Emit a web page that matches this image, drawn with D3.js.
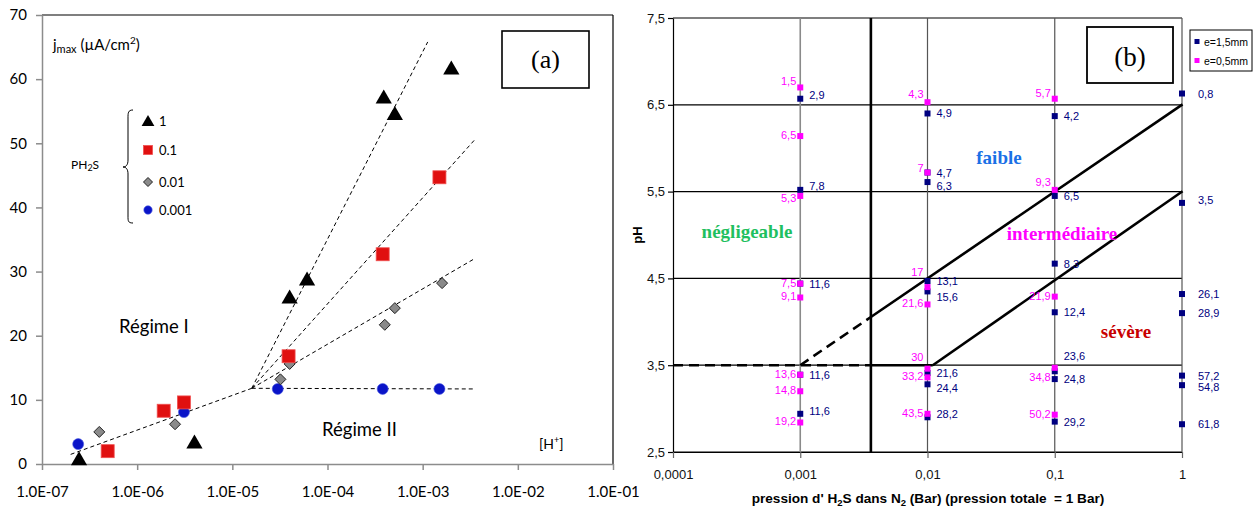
<!DOCTYPE html>
<html><head><meta charset="utf-8">
<script src="https://cdn.jsdelivr.net/npm/d3@7"></script>
<style>body{margin:0;background:#fff}svg{display:block}</style>
</head><body><svg id="c" width="1256" height="511"></svg>
<script>
// ---------- Panel (a) data ----------
const xTicksA = [1e-7, 1e-6, 1e-5, 1e-4, 1e-3, 1e-2, 1e-1];
const xTickLabelsA = ["1.0E-07","1.0E-06","1.0E-05","1.0E-04","1.0E-03","1.0E-02","1.0E-01"];
const yTicksA = [0, 10, 20, 30, 40, 50, 60, 70];
const legendLabelsA = ["1", "0.1", "0.01", "0.001"];
const hTri = [2.45e-7, 4.0e-6, 4.0e-5, 6.1e-5, 3.9e-4, 5.1e-4, 2.0e-3];
const jTri = [0.8, 3.4, 26.0, 28.8, 57.2, 54.6, 61.7];
const hSq = [4.9e-7, 1.9e-6, 3.1e-6, 3.9e-5, 3.8e-4, 1.5e-3];
const jSq = [2.0, 8.3, 9.6, 16.8, 32.7, 44.7];
const hDia = [4.0e-7, 2.5e-6, 3.2e-5, 4.0e-5, 4.0e-4, 5.1e-4, 1.6e-3];
const jDia = [5.0, 6.2, 13.2, 15.6, 21.7, 24.3, 28.2];
const hCir = [2.4e-7, 3.1e-6, 3.0e-5, 3.8e-4, 1.5e-3];
const jCir = [3.1, 8.1, 11.7, 11.7, 11.7];
// dashed trend lines: start/end [H+] and j
const trendH0 = [2.0e-7, 1.6e-5, 1.6e-5, 1.6e-5, 1.6e-5];
const trendJ0 = [1.5, 11.8, 11.8, 11.8, 11.8];
const trendH1 = [1.6e-5, 3.5e-3, 1.13e-3, 3.5e-3, 3.5e-3];
const trendJ1 = [11.8, 11.7, 65.8, 50.5, 32.0];

// ---------- Panel (b) data ----------
const pTicks = [0.0001, 0.001, 0.01, 0.1, 1];
const pTickLabels = ["0,0001", "0,001", "0,01", "0,1", "1"];
const phTicks = [2.5, 3.5, 4.5, 5.5, 6.5, 7.5];
const phTickLabels = ["2,5", "3,5", "4,5", "5,5", "6,5", "7,5"];
const seriesNamesB = ["e=1,5mm", "e=0,5mm"];
// e = 1,5 mm (navy)
const navyP = [0.001,0.001,0.001,0.001,0.001,
  0.01,0.01,0.01,0.01,0.01,0.01,0.01,0.01,
  0.1,0.1,0.1,0.1,0.1,0.1,0.1,
  1,1,1,1,1,1,1];
const navyPH = [6.57,5.52,4.44,3.39,2.94,
  6.40,5.72,5.61,4.47,4.35,3.41,3.28,2.90,
  6.37,5.45,4.67,4.11,3.43,3.34,2.85,
  6.63,5.37,4.32,4.10,3.38,3.27,2.82];
const navyLabel = ["2,9","7,8","11,6","11,6","11,6",
  "4,9","4,7","6,3","13,1","15,6","21,6","24,4","28,2",
  "4,2","6,5","8,3","12,4","23,6","24,8","29,2",
  "0,8","3,5","26,1","28,9","57,2","54,8","61,8"];
// e = 0,5 mm (magenta)
const magP = [0.001,0.001,0.001,0.001,0.001,0.001,0.001,0.001,
  0.01,0.01,0.01,0.01,0.01,0.01,0.01,
  0.1,0.1,0.1,0.1,0.1];
const magPH = [6.70,6.14,5.45,4.44,4.28,3.39,3.20,2.84,
  6.53,5.72,4.40,4.20,3.46,3.36,2.94,
  6.57,5.52,4.29,3.47,2.93];
const magLabel = ["1,5","6,5","5,3","7,5","9,1","13,6","14,8","19,2",
  "4,3","7","17","21,6","30","33,2","43,5",
  "5,7","9,3","21,9","34,8","50,2"];
// boundary lines of the domains
const limitP = 0.00359;
const regionNames = ["négligeable", "faible", "intermédiaire", "sévère"];

const svg = d3.select("#c");

// ================= PANEL A =================
const xA = d3.scaleLog().domain([1e-7, 1e-1]).range([42, 613]);
const yA = d3.scaleLinear().domain([0, 70]).range([464, 15]);
const fA = "Lato, 'Open Sans', sans-serif";
const gA = svg.append("g").attr("font-family", fA);

gA.append("line").attr("x1", xA(1e-7)).attr("x2", xA(1e-1)).attr("y1", yA(70)).attr("y2", yA(70)).attr("stroke", "#000").attr("stroke-width", 1.2);
gA.append("line").attr("x1", xA(1e-1)).attr("x2", xA(1e-1)).attr("y1", yA(70)).attr("y2", yA(0)).attr("stroke", "#000").attr("stroke-width", 1.2);

const axLA = gA.append("g").attr("transform", `translate(${xA(1e-7)},0)`)
  .call(d3.axisLeft(yA).tickValues(yTicksA).tickSize(6).tickSizeOuter(0).tickPadding(9));
const axBA = gA.append("g").attr("transform", `translate(0,${yA(0)})`)
  .call(d3.axisBottom(xA).tickValues(xTicksA).tickFormat((d, i) => xTickLabelsA[i]).tickSize(6).tickSizeOuter(0).tickPadding(16));
[axLA, axBA].forEach(ax => {
  ax.select(".domain").attr("stroke", "#8c8c8c").attr("stroke-width", 1.5);
  ax.selectAll(".tick line").attr("stroke", "#8c8c8c").attr("stroke-width", 1.5);
  ax.selectAll("text").attr("font-family", fA).attr("font-size", 15).attr("fill", "#000");
});

// dashed trend lines
trendH0.forEach((h, i) => {
  gA.append("line")
    .attr("x1", xA(h)).attr("y1", yA(trendJ0[i]))
    .attr("x2", xA(trendH1[i])).attr("y2", yA(trendJ1[i]))
    .attr("stroke", "#000").attr("stroke-width", 1).attr("stroke-dasharray", "4,3");
});

const triPath = s => `M0,${-s*0.55}L${s*0.58},${s*0.45}L${-s*0.58},${s*0.45}Z`;
function drawTri(g, x, y, s) { g.append("path").attr("d", triPath(s)).attr("transform", `translate(${x},${y})`).attr("fill", "#000"); }
function drawSq(g, x, y, s) { g.append("rect").attr("x", x - s/2).attr("y", y - s/2).attr("width", s).attr("height", s).attr("fill", "#e01010").attr("stroke", "#f05050").attr("stroke-width", 0.8); }
function drawDia(g, x, y, s) { g.append("path").attr("d", `M0,${-s/2}L${s/2},0L0,${s/2}L${-s/2},0Z`).attr("transform", `translate(${x},${y})`).attr("fill", "#8a8a8a").attr("stroke", "#222").attr("stroke-width", 1); }
function drawCir(g, x, y, r) { g.append("circle").attr("cx", x).attr("cy", y).attr("r", r).attr("fill", "#0a14c8").attr("stroke", "#4a5ae0").attr("stroke-width", 0.6); }

hCir.forEach((h, i) => drawCir(gA, xA(h), yA(jCir[i]), 5.5));
hDia.forEach((h, i) => drawDia(gA, xA(h), yA(jDia[i]), 11));
hSq.forEach((h, i) => drawSq(gA, xA(h), yA(jSq[i]), 13));
hTri.forEach((h, i) => drawTri(gA, xA(h), yA(jTri[i]), 14));

// y title
const yt = gA.append("text").attr("x", 53).attr("y", 50).attr("font-size", 15).attr("fill", "#000");
yt.append("tspan").text("j");
yt.append("tspan").attr("font-size", 11).attr("dy", 3).text("max");
yt.append("tspan").attr("dy", -3).text(" (µA/cm");
yt.append("tspan").attr("font-size", 10).attr("dy", -6).text("2");
yt.append("tspan").attr("dy", 6).text(")");

// legend
const legY = [121, 150, 182, 210];
drawTri(gA, 148, legY[0], 11);
drawSq(gA, 148, legY[1], 9);
drawDia(gA, 148, legY[2], 9);
drawCir(gA, 148, legY[3], 4.2);
legendLabelsA.forEach((t, i) => gA.append("text").attr("x", 159).attr("y", legY[i] + 4.5).attr("font-size", 13).text(t));
gA.append("path").attr("d", "M133,110 C128,110 128,113 128,118 L128,160 C128,165 126,167 123,167 C126,167 128,169 128,174 L128,216 C128,221 128,223 133,223")
  .attr("fill", "none").attr("stroke", "#000").attr("stroke-width", 1);
const ph2s = gA.append("text").attr("x", 71).attr("y", 169).attr("font-size", 12);
ph2s.append("tspan").text("PH");
ph2s.append("tspan").attr("font-size", 9).attr("dy", 2).text("2");
ph2s.append("tspan").attr("dy", -2).text("S");

gA.append("text").attr("x", 119).attr("y", 333).attr("font-size", 18.5).text("Régime I");
gA.append("text").attr("x", 322).attr("y", 436).attr("font-size", 18.5).text("Régime II");
const hp = gA.append("text").attr("x", 539).attr("y", 449).attr("font-size", 14);
hp.append("tspan").text("[H");
hp.append("tspan").attr("font-size", 9).attr("dy", -6).text("+");
hp.append("tspan").attr("dy", 6).text("]");

gA.append("rect").attr("x", 502).attr("y", 31).attr("width", 87).attr("height", 57).attr("fill", "none").attr("stroke", "#000").attr("stroke-width", 1.6);
gA.append("text").attr("x", 545.5).attr("y", 68).attr("text-anchor", "middle").attr("font-family", "'Liberation Serif', 'Times New Roman', serif").attr("font-size", 26).text("(a)");

// ================= PANEL B =================
const fB = "'Liberation Sans', Arial, sans-serif";
const xB = d3.scaleLog().domain([1e-4, 1]).range([673, 1182]);
const yB = d3.scaleLinear().domain([2.5, 7.5]).range([452, 18]);
const gB = svg.append("g").attr("font-family", fB);

// horizontal grid
phTicks.forEach(v => gB.append("line").attr("x1", xB(1e-4)).attr("x2", xB(1)).attr("y1", yB(v)).attr("y2", yB(v)).attr("stroke", "#000").attr("stroke-width", 1.2));
// vertical grid
pTicks.slice(1).forEach((p, i) => gB.append("line").attr("x1", xB(p)).attr("x2", xB(p)).attr("y1", yB(7.5)).attr("y2", yB(2.5))
  .attr("stroke", i === 0 ? "#8a8a8a" : "#555").attr("stroke-width", i === 0 ? 1.6 : 1.2));

const axLB = gB.append("g").attr("transform", `translate(${xB(1e-4)},0)`)
  .call(d3.axisLeft(yB).tickValues(phTicks).tickFormat((d, i) => phTickLabels[i]).tickSize(5).tickSizeOuter(0).tickPadding(3));
const axBB = gB.append("g").attr("transform", `translate(0,${yB(2.5)})`)
  .call(d3.axisBottom(xB).tickValues(pTicks).tickFormat((d, i) => pTickLabels[i]).tickSize(6).tickSizeOuter(0).tickPadding(12));
[axLB, axBB].forEach(ax => {
  ax.select(".domain").attr("stroke", "#000").attr("stroke-width", 1.2);
  ax.selectAll(".tick line").attr("stroke", "#000").attr("stroke-width", 1.2);
  ax.selectAll("text").attr("font-family", fB).attr("font-size", 13).attr("fill", "#111");
});
axBB.selectAll(".tick line").attr("stroke", "#666");

// thick boundary lines
const thick = (p0, h0, p1, h1, dash) => gB.append("line")
  .attr("x1", xB(p0)).attr("y1", yB(h0)).attr("x2", xB(p1)).attr("y2", yB(h1))
  .attr("stroke", "#000").attr("stroke-width", 2.6).attr("stroke-dasharray", dash ? "10,6" : null);
const lowStart = 0.011;
const lowSlope = 2 / Math.log10(1 / lowStart);
thick(limitP, 2.5, limitP, 7.5, false);
thick(1e-4, 3.5, limitP, 3.5, true);
thick(0.001, 3.5, limitP, 6.5 + Math.log10(limitP), true);
thick(limitP, 6.5 + Math.log10(limitP), 1.01, 6.5 + Math.log10(1.01), false);
thick(limitP, 3.5, lowStart, 3.5, false);
thick(lowStart, 3.5, 1.01, 3.5 + Math.log10(1.01 / lowStart) * lowSlope, false);

// points
const navyC = "#000080", magC = "#ff00ff";
const navyNudge = {"2,9@0.001": -4, "7,8@0.001": -4, "6,3@0.01": 4, "15,6@0.01": 6, "24,4@0.01": 4, "28,2@0.01": -3, "23,6@0.1": -15, "3,5@1": -3, "54,8@1": 2};
const magNudge = {"1,5": -5, "4,3": -7, "7": -4, "5,7": -5, "9,3": -7, "17": -14, "30": -11, "34,8": 10, "5,3": 3};
navyP.forEach((p, i) => {
  const x = xB(p), y = yB(navyPH[i]);
  gB.append("rect").attr("x", x - 3).attr("y", y - 3).attr("width", 6).attr("height", 6).attr("fill", navyC);
  const key = navyLabel[i] + "@" + p;
  let dy = navyNudge[key] || 0;
  if (key === "11,6@0.001" && i === 4) dy = -3;
  gB.append("text").attr("x", x + (p === 1 ? 16 : 9)).attr("y", y + dy + 4).attr("font-size", 11).attr("fill", navyC).text(navyLabel[i]);
});
magP.forEach((p, i) => {
  const x = xB(p), y = yB(magPH[i]);
  gB.append("rect").attr("x", x - 3).attr("y", y - 3).attr("width", 6).attr("height", 6).attr("fill", magC);
  const dy = (magNudge[magLabel[i]] || 0) - 1;
  gB.append("text").attr("x", x - 4).attr("y", y + dy + 4).attr("text-anchor", "end").attr("font-size", 11).attr("fill", magC).text(magLabel[i]);
});

// region labels
const serif = "'Liberation Serif', 'Times New Roman', serif";
const regX = [747, 999, 1062, 1126], regY = [238, 164, 240, 338];
const regC = ["#1fc060", "#1a70e6", "#ff00ff", "#c80000"];
regionNames.forEach((t, i) => gB.append("text").attr("x", regX[i]).attr("y", regY[i]).attr("text-anchor", "middle")
  .attr("font-family", serif).attr("font-weight", "bold").attr("font-size", 19).attr("fill", regC[i]).text(t));

// (b) box
gB.append("rect").attr("x", 1087).attr("y", 27).attr("width", 86).attr("height", 56).attr("fill", "#fff").attr("stroke", "#000").attr("stroke-width", 1.8);
gB.append("text").attr("x", 1130).attr("y", 66).attr("text-anchor", "middle").attr("font-family", serif).attr("font-size", 27).text("(b)");

// legend (b)
gB.append("rect").attr("x", 1190).attr("y", 30).attr("width", 62).attr("height", 41).attr("fill", "#fff").attr("stroke", "#000").attr("stroke-width", 1);
[navyC, magC].forEach((c, i) => {
  gB.append("rect").attr("x", 1194.5).attr("y", 39 + i * 19).attr("width", 5).attr("height", 5).attr("fill", c);
  gB.append("text").attr("x", 1204).attr("y", 46 + i * 19).attr("font-size", 10.5).attr("fill", "#000").text(seriesNamesB[i]);
});

// axis titles
gB.append("text").attr("transform", "translate(642,235) rotate(-90)").attr("text-anchor", "middle").attr("font-weight", "bold").attr("font-size", 13).text("pH");
const xt = gB.append("text").attr("x", 928).attr("y", 503).attr("text-anchor", "middle").attr("font-weight", "bold").attr("font-size", 13.6).attr("fill", "#000").attr("xml:space", "preserve");
xt.append("tspan").text("pression d' H");
xt.append("tspan").attr("font-size", 9.5).attr("dy", 3).text("2");
xt.append("tspan").attr("dy", -3).text("S dans N");
xt.append("tspan").attr("font-size", 9.5).attr("dy", 3).text("2");
xt.append("tspan").attr("dy", -3).text(" (Bar) (pression totale  = 1 Bar)");
</script></body></html>
